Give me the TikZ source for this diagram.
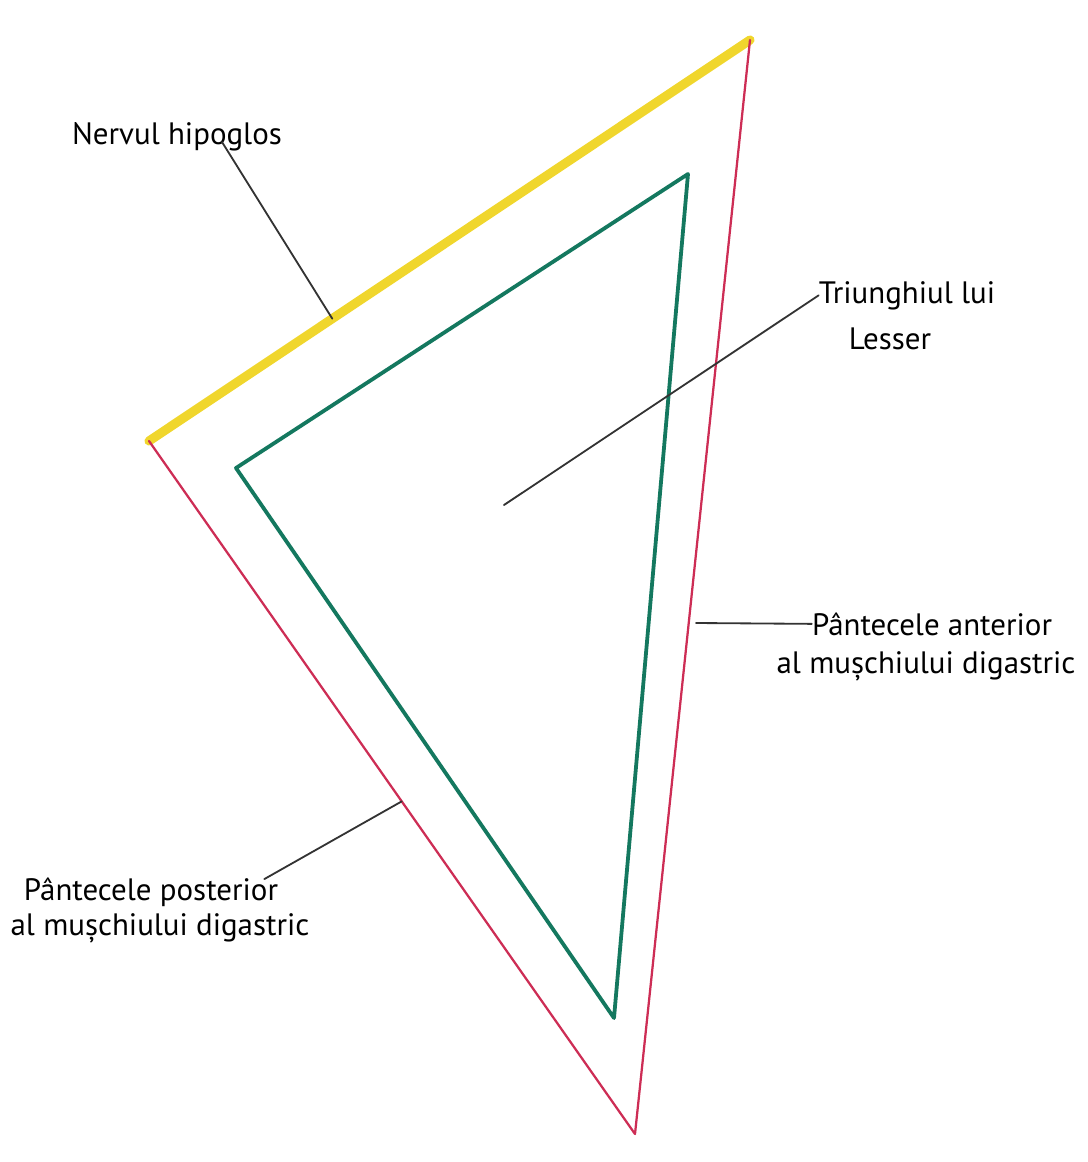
\documentclass[tikz,border=0pt]{standalone}
\usepackage{fontspec}
\setmainfont{PT Sans}
\usetikzlibrary{calc}
\definecolor{nervyellow}{RGB}{240,214,45}
\definecolor{digred}{RGB}{205,45,85}
\definecolor{lessgreen}{RGB}{20,120,95}
\tikzset{
	lbltext/.style={font=\fontsize{22}{28}\selectfont, inner sep=0pt, anchor=base},
	leader/.style={line width=1.3pt, black!80},
}
\begin{document}
\begin{tikzpicture}[x=0.025cm, y=-0.025cm, line join=round, line cap=round]
	\useasboundingbox (0,0) rectangle (1087,1162);
	% outer triangle
	\coordinate (A) at (750,40);
	\coordinate (B) at (149,441);
	\coordinate (C) at (635,1134);
	\draw[nervyellow, line width=6.5pt] (B) -- (A);
	\draw[digred, line width=1.6pt] (A) -- (C) -- (B);
	% Lesser triangle
	\coordinate (D) at (688,174);
	\coordinate (E) at (236,468);
	\coordinate (F) at (614,1018);
	\draw[lessgreen, line width=2.7pt] (D) -- (E) -- (F) -- cycle;
	% labels
	\node[lbltext] (nerv) at (177,145) {Nervul hipoglos};
	\node[lbltext] (lesser1) at (907,303) {Triunghiul lui};
	\node[lbltext] (lesser2) at (890,349) {Lesser};
	\node[lbltext] (ant1) at (932,635) {Pântecele anterior};
	\node[lbltext] (ant2) at (926,673) {al mușchiului digastric};
	\node[lbltext] (post1) at (151,900) {Pântecele posterior};
	\node[lbltext] (post2) at (160,935) {al mușchiului digastric};
	% leader lines
	\coordinate (nervpt) at ($(B)!0.305!(A)$);
	\coordinate (lesspt) at (504,505);
	\coordinate (antpt) at (696,623);
	\coordinate (postpt) at ($(B)!0.52!(C)$);
	\draw[leader] ($(nerv.base)+(45,-3)$) -- (nervpt);
	\draw[leader] (lesser1.west) -- (lesspt);
	\draw[leader] (ant1.west) -- (antpt);
	\draw[leader] ($(post1.north east)+(-14,2)$) -- (postpt);
\end{tikzpicture}
\end{document}
